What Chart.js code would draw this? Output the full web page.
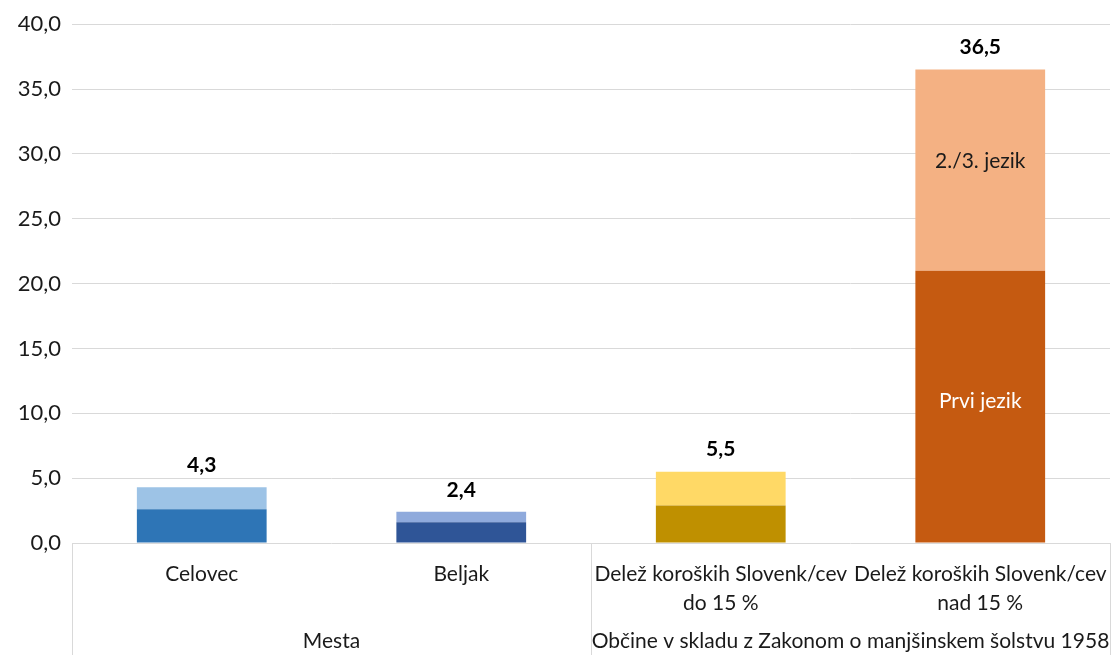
<!DOCTYPE html>
<html>
<head>
<meta charset="utf-8">
<script src="https://cdn.jsdelivr.net/npm/chart.js@4.4.1/dist/chart.umd.min.js"></script>
<style>
  html, body { margin: 0; padding: 0; background: #fff; }
  #wrap { width: 1112px; height: 655px; position: relative; }
</style>
</head>
<body>
<div id="wrap"><canvas id="jezikChart"></canvas></div>
<script>
// data
const categories = [
  ['Celovec'],
  ['Beljak'],
  ['Delež koroških Slovenk/cev', 'do 15 %'],
  ['Delež koroških Slovenk/cev', 'nad 15 %']
];
const groups = [
  { label: 'Mesta', from: 0, to: 1 },
  { label: 'Občine v skladu z Zakonom o manjšinskem šolstvu 1958', from: 2, to: 3 }
];
const prviJezik = [2.6, 1.6, 2.9, 21.0];
const drugiJezik = [1.7, 0.8, 2.6, 15.5];
const totals = [4.3, 2.4, 5.5, 36.5];
const yTicks = [0, 5, 10, 15, 20, 25, 30, 35, 40];

const darkColors = ['#2E75B6', '#2F5597', '#BF9000', '#C55A11'];
const lightColors = ['#9DC3E6', '#8FAADC', '#FFD966', '#F4B183'];

const FONT = 'Lato, "Open Sans", sans-serif';
const fmt = v => v.toFixed(1).replace('.', ',');

// draws the two-level category axis, totals and inside labels
const excelBits = {
  id: 'excelBits',
  afterDraw(chart) {
    const { ctx, chartArea: a, scales: { x, y } } = chart;
    const H = chart.height;
    const step = (a.right - a.left) / categories.length;
    ctx.save();
    ctx.strokeStyle = '#d9d9d9';
    ctx.lineWidth = 1;
    // vertical separators: left, between groups, right
    const seps = [a.left, a.left + step * 2, a.right];
    seps.forEach(sx => {
      const px = Math.round(sx) + 0.5;
      ctx.beginPath();
      ctx.moveTo(px, a.bottom);
      ctx.lineTo(px, H);
      ctx.stroke();
    });

    ctx.fillStyle = '#1a1a1a';
    ctx.textAlign = 'center';
    ctx.textBaseline = 'middle';
    ctx.font = '21px ' + FONT;
    categories.forEach((lines, i) => {
      const cx = x.getPixelForValue(i);
      lines.forEach((t, k) => ctx.fillText(t, cx, a.bottom + 31 + k * 29));
    });
    groups.forEach(g => {
      const cx = (x.getPixelForValue(g.from) + x.getPixelForValue(g.to)) / 2;
      ctx.fillText(g.label, cx, a.bottom + 98);
    });

    // totals above bars
    ctx.font = 'bold 21px ' + FONT;
    ctx.fillStyle = '#000';
    totals.forEach((t, i) => {
      const topPx = y.getPixelForValue(prviJezik[i] + drugiJezik[i]);
      ctx.fillText(fmt(t), x.getPixelForValue(i), topPx - 22);
    });

    // segment labels in the last bar
    const last = categories.length - 1;
    const cx = x.getPixelForValue(last);
    ctx.font = '21px ' + FONT;
    ctx.fillStyle = '#fff';
    ctx.fillText('Prvi jezik', cx, y.getPixelForValue(prviJezik[last] / 2) - 6);
    ctx.fillStyle = '#1a1a1a';
    ctx.fillText('2./3. jezik', cx, y.getPixelForValue(prviJezik[last] + drugiJezik[last] / 2) - 9);
    ctx.restore();
  }
};

new Chart(document.getElementById('jezikChart'), {
  type: 'bar',
  data: {
    labels: categories.map(c => c.join(' ')),
    datasets: [
      {
        label: 'Prvi jezik',
        data: prviJezik,
        backgroundColor: darkColors,
        borderWidth: 0,
        categoryPercentage: 1,
        barPercentage: 0.5
      },
      {
        label: '2./3. jezik',
        data: drugiJezik,
        backgroundColor: lightColors,
        borderWidth: 0,
        categoryPercentage: 1,
        barPercentage: 0.5
      }
    ]
  },
  options: {
    responsive: true,
    maintainAspectRatio: false,
    animation: false,
    layout: { padding: { top: 23, right: 2, left: 0, bottom: 0 } },
    plugins: {
      legend: { display: false },
      tooltip: { enabled: false }
    },
    scales: {
      x: {
        stacked: true,
        grid: { display: false },
        border: { display: false },
        ticks: { display: false },
        afterFit(scale) { scale.height = 112; }
      },
      y: {
        stacked: true,
        min: 0,
        max: 40,
        afterBuildTicks(scale) { scale.ticks = yTicks.map(v => ({ value: v })); },
        ticks: {
          callback: v => fmt(v),
          color: '#1a1a1a',
          font: { size: 22, family: FONT },
          padding: 11
        },
        grid: { color: '#d9d9d9', drawTicks: false },
        border: { display: false },
        afterFit(scale) { scale.width = 72; }
      }
    }
  },
  plugins: [excelBits]
});
</script>
</body>
</html>
